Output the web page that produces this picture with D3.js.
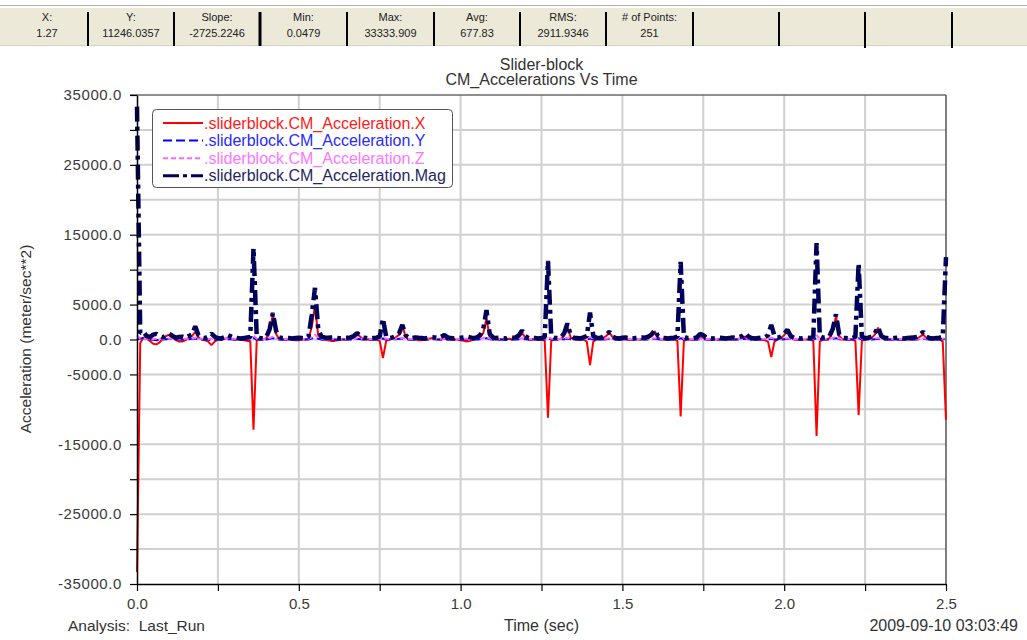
<!DOCTYPE html>
<html>
<head>
<meta charset="utf-8">
<script src="https://cdn.jsdelivr.net/npm/d3@7"></script>
<style>
  body { margin: 0; background: #ffffff; }
  svg text { font-family: "Liberation Sans", Arial, sans-serif; }
</style>
</head>
<body>
<svg id="chart" width="1027" height="640"></svg>
<script>
// ---------------- data ----------------
// 251 samples, 0.01 s apart, from 0.0 to 2.5 s
const sampleStep = 0.01;

const accelX = [
  -33300, -500, 300, 100, -200, -600, -700, -400, 100, 500,
  700, 400, -100, -300, -300, -100, 300, 500, 1100, 300,
  0, -100, -300, -800, -300, 0, 0, 100, 200, 100,
  0, 0, 0, -100, -200, -200, -12900, -100, 0, 0,
  200, 1200, 3600, 800, 0, 0, 0, 0, 0, -100,
  -100, 0, 0, 100, 1800, 4800, 600, 0, 0, -100,
  -200, -200, -100, 0, 0, 0, 100, 300, 800, 400,
  0, 0, 0, 0, 0, -200, -2650, -200, 0, 100,
  300, 700, 2000, 400, 0, 0, 0, -100, -100, 0,
  100, 200, 100, 0, 0, 100, 0, 0, 0, 0,
  -100, -200, -300, -200, 0, 100, 400, 900, 3000, 300,
  0, 0, 0, 0, 0, 100, 0, 100, 400, 900,
  300, 0, 0, 0, 0, 0, -200, -11200, -200, 0,
  0, 100, 600, 1900, 300, 0, 0, 0, 0, -300,
  -3650, -300, 0, 0, 200, 500, 1000, 300, 0, 0,
  0, 0, 0, 0, 0, 0, 100, 0, 200, 500,
  1200, 300, 0, 0, 0, 0, 0, -200, -11000, -200,
  0, 0, 0, 0, 200, 300, 0, 0, 0, 0,
  0, 0, 0, 0, 0, 0, 100, 200, 400, 100,
  0, 0, 0, 0, -100, -300, -2500, -300, 0, 200,
  600, 1300, 400, 0, 0, 0, 0, 0, 0, -200,
  -13800, -300, 0, 0, 200, 1200, 3300, 500, 0, 0,
  0, 0, -200, -10800, -200, 0, 0, 200, 700, 1700,
  300, 0, 0, 0, 0, 0, 0, 0, 0, 0,
  0, 100, 400, 700, 200, 0, 0, 0, 0, -300,
  -11500
];

const accelY = [
  0, 150, 200, 100, 0, -50, -100, -50, 0, 50,
  100, 50, 0, 0, -50, 0, 50, 100, 150, 50,
  0, 0, -50, -100, -50, 0, 0, 0, 50, 50,
  0, 0, 0, 0, 0, 0, 200, 0, 0, 0,
  0, 100, 200, 100, 0, 0, 0, 0, 0, 0,
  0, 0, 0, 0, 150, 300, 100, 0, 0, 0,
  0, 0, 0, 0, 0, 0, 0, 50, 100, 50,
  0, 0, 0, 0, 0, 0, 150, 0, 0, 0,
  50, 100, 150, 50, 0, 0, 0, 0, 0, 0,
  0, 50, 50, 0, 0, 50, 0, 0, 0, 0,
  0, 0, -50, 0, 0, 0, 50, 100, 200, 50,
  0, 0, 0, 0, 0, 0, 0, 0, 50, 100,
  50, 0, 0, 0, 0, 0, 0, 200, 0, 0,
  0, 0, 50, 150, 50, 0, 0, 0, 0, 0,
  150, 0, 0, 0, 0, 50, 100, 50, 0, 0,
  0, 0, 0, 0, 0, 0, 0, 0, 0, 50,
  100, 50, 0, 0, 0, 0, 0, 0, 200, 0,
  0, 0, 0, 0, 50, 50, 0, 0, 0, 0,
  0, 0, 0, 0, 0, 0, 0, 50, 100, 50,
  0, 0, 0, 0, 0, 0, 100, 0, 0, 0,
  50, 100, 50, 0, 0, 0, 0, 0, 0, 0,
  200, 0, 0, 0, 0, 100, 200, 50, 0, 0,
  0, 0, 0, 200, 0, 0, 0, 0, 50, 100,
  50, 0, 0, 0, 0, 0, 0, 0, 0, 0,
  0, 0, 50, 100, 50, 0, 0, 0, 0, 0,
  200
];

const accelZ = [
  600, 120, 150, 110, 90, 80, 90, 100, 110, 120,
  130, 110, 90, 80, 80, 100, 120, 150, 250, 120,
  100, 90, 80, 100, 90, 80, 80, 90, 110, 100,
  90, 80, 80, 90, 100, 150, 600, 120, 90, 80,
  100, 200, 400, 150, 90, 80, 80, 80, 80, 80,
  80, 80, 80, 100, 300, 700, 200, 100, 90, 80,
  80, 80, 80, 80, 80, 80, 90, 110, 150, 110,
  90, 80, 80, 80, 80, 100, 300, 100, 80, 90,
  110, 150, 250, 120, 90, 80, 80, 80, 80, 80,
  90, 100, 100, 90, 90, 120, 90, 80, 80, 80,
  80, 90, 100, 90, 80, 90, 120, 200, 400, 120,
  90, 80, 80, 80, 80, 100, 90, 90, 120, 180,
  110, 80, 80, 80, 80, 80, 100, 500, 100, 80,
  80, 90, 120, 250, 120, 80, 80, 80, 90, 110,
  350, 110, 80, 80, 90, 110, 150, 100, 80, 80,
  80, 80, 80, 80, 80, 80, 90, 80, 100, 120,
  180, 110, 80, 80, 80, 80, 80, 100, 500, 100,
  80, 80, 80, 90, 130, 120, 80, 80, 80, 80,
  80, 80, 80, 80, 80, 80, 90, 100, 150, 100,
  80, 80, 80, 80, 90, 110, 250, 110, 80, 90,
  120, 180, 110, 80, 80, 80, 80, 80, 80, 100,
  600, 110, 80, 90, 110, 200, 400, 130, 80, 80,
  80, 80, 100, 500, 100, 80, 80, 90, 120, 200,
  110, 80, 80, 80, 80, 80, 80, 80, 80, 80,
  80, 90, 120, 150, 100, 80, 80, 80, 80, 100,
  500
];

const accelMag = [
  33334, 900, 1100, 500, 350, 700, 800, 500, 300, 600,
  800, 500, 250, 350, 400, 250, 500, 700, 1900, 600,
  250, 200, 400, 850, 400, 200, 150, 300, 650, 450,
  250, 200, 150, 200, 300, 350, 13100, 400, 200, 150,
  400, 1500, 3800, 1200, 300, 200, 250, 200, 150, 200,
  250, 200, 150, 400, 3500, 7400, 1500, 400, 300, 250,
  300, 300, 200, 150, 200, 250, 300, 500, 900, 600,
  250, 200, 150, 200, 250, 400, 3000, 400, 200, 300,
  500, 900, 2100, 600, 250, 200, 300, 250, 200, 150,
  250, 350, 300, 200, 400, 650, 300, 200, 150, 200,
  250, 300, 400, 300, 200, 300, 600, 1500, 4200, 800,
  300, 200, 250, 200, 150, 400, 250, 300, 600, 1300,
  500, 200, 250, 200, 150, 200, 400, 11246, 500, 250,
  200, 300, 900, 2300, 600, 250, 200, 150, 300, 500,
  3850, 500, 250, 200, 400, 700, 1100, 400, 200, 150,
  250, 300, 200, 150, 200, 250, 300, 250, 400, 700,
  1350, 500, 250, 200, 150, 200, 250, 400, 11100, 400,
  200, 250, 200, 300, 800, 600, 250, 200, 150, 200,
  250, 200, 150, 200, 300, 250, 350, 500, 900, 400,
  200, 150, 200, 250, 300, 600, 2100, 500, 250, 400,
  800, 1400, 500, 250, 200, 150, 200, 250, 200, 400,
  13800, 500, 250, 300, 500, 1500, 3600, 700, 250, 200,
  150, 200, 400, 10900, 400, 200, 250, 400, 900, 1800,
  500, 250, 200, 150, 200, 250, 200, 150, 200, 250,
  300, 350, 700, 1100, 400, 200, 150, 200, 250, 400,
  11800
];

const seriesNames = [
  ".sliderblock.CM_Acceleration.X",
  ".sliderblock.CM_Acceleration.Y",
  ".sliderblock.CM_Acceleration.Z",
  ".sliderblock.CM_Acceleration.Mag"
];

const yTickValues = [-35000, -30000, -25000, -20000, -15000, -10000, -5000, 0,
                     5000, 10000, 15000, 20000, 25000, 30000, 35000];
const yLabelValues = [-35000, -25000, -15000, -5000, 0, 5000, 15000, 25000, 35000];
const xTickValues = [0, 0.25, 0.5, 0.75, 1.0, 1.25, 1.5, 1.75, 2.0, 2.25, 2.5];
const xLabelValues = [0, 0.5, 1.0, 1.5, 2.0, 2.5];

const statLabels = ["X:", "Y:", "Slope:", "Min:", "Max:", "Avg:", "RMS:", "# of Points:"];
const statValues = ["1.27", "11246.0357", "-2725.2246", "0.0479", "33333.909", "677.83", "2911.9346", "251"];

const titleLines = ["Slider-block", "CM_Accelerations Vs Time"];

// ---------------- layout ----------------
const svg = d3.select("#chart");
const plot = { left: 137, right: 946, top: 95, bottom: 584 };

const x = d3.scaleLinear().domain([0, 2.5]).range([plot.left, plot.right]);
const y = d3.scaleLinear().domain([-35000, 35000]).range([plot.bottom, plot.top]);

// ---------------- statistics strip ----------------
const strip = svg.append("g");
strip.append("line").attr("x1", 0).attr("x2", 1027).attr("y1", 5.5).attr("y2", 5.5)
  .attr("stroke", "#b8b5a8").attr("stroke-width", 1);
strip.append("rect").attr("x", 0).attr("y", 7).attr("width", 1027).attr("height", 38)
  .attr("fill", "#ece9d8");
strip.append("line").attr("x1", 0).attr("x2", 1027).attr("y1", 7.5).attr("y2", 7.5)
  .attr("stroke", "#ffffff").attr("stroke-width", 1);
strip.append("line").attr("x1", 0).attr("x2", 1027).attr("y1", 45.5).attr("y2", 45.5)
  .attr("stroke", "#d6d3c6").attr("stroke-width", 1);

const cellEdges = [6, 88, 174, 260, 347, 434, 520, 606, 693, 779, 865, 952];
cellEdges.slice(1).forEach((ex, k) => {
  strip.append("line")
    .attr("x1", ex).attr("x2", ex).attr("y1", 12).attr("y2", k >= 9 ? 48 : 46)
    .attr("stroke", "#000").attr("stroke-width", k === 2 ? 3 : 2);
});
statLabels.forEach((lab, k) => {
  const cx = (cellEdges[k] + cellEdges[k + 1]) / 2;
  strip.append("text").attr("x", cx).attr("y", 21).attr("text-anchor", "middle")
    .attr("font-size", 11).attr("fill", "#222").text(lab);
  strip.append("text").attr("x", cx).attr("y", 37).attr("text-anchor", "middle")
    .attr("font-size", 11).attr("fill", "#222").text(statValues[k]);
});

// ---------------- grid ----------------
const grid = svg.append("g");
grid.selectAll("line.h")
  .data(yTickValues.filter(v => v > -35000 && v < 35000))
  .join("line")
  .attr("x1", plot.left).attr("x2", plot.right)
  .attr("y1", d => y(d)).attr("y2", d => y(d))
  .attr("stroke", "#d0d0d0").attr("stroke-width", 2);
grid.selectAll("line.v")
  .data(xTickValues.filter(v => v > 0 && v < 2.5))
  .join("line")
  .attr("y1", plot.top).attr("y2", plot.bottom)
  .attr("x1", d => x(d)).attr("x2", d => x(d))
  .attr("stroke", "#d0d0d0").attr("stroke-width", 2);

// frame: top and right edges
svg.append("line").attr("x1", plot.left - 7).attr("x2", plot.right)
  .attr("y1", plot.top).attr("y2", plot.top)
  .attr("stroke", "#6a6a6a").attr("stroke-width", 1.5);
svg.append("line").attr("x1", plot.right).attr("x2", plot.right)
  .attr("y1", plot.top).attr("y2", plot.bottom)
  .attr("stroke", "#555").attr("stroke-width", 1.5);

// ---------------- series ----------------
const seriesData = [accelX, accelY, accelZ, accelMag];
const seriesStyle = [
  { color: "#ff0000", width: 2, dash: null },
  { color: "#0000ff", width: 2, dash: "9,4" },
  { color: "#ff66ff", width: 2, dash: "5,3" },
  { color: "#00005a", width: 4.5, dash: "15,5,4,5" }
];

const lineGen = d3.line()
  .x((d, i) => x(i * sampleStep))
  .y(d => y(d));

const lines = svg.append("g");
seriesData.forEach((vals, k) => {
  const st = seriesStyle[k];
  lines.append("path")
    .datum(vals)
    .attr("d", lineGen)
    .attr("fill", "none")
    .attr("stroke", st.color)
    .attr("stroke-width", st.width)
    .attr("stroke-dasharray", st.dash)
    .attr("stroke-linejoin", "bevel");
});

// ---------------- axes ----------------
const yAxis = d3.axisLeft(y)
  .tickValues(yTickValues)
  .tickSize(7)
  .tickSizeOuter(0)
  .tickPadding(8)
  .tickFormat(d => yLabelValues.includes(d) ? d.toFixed(1) : "");
const gy = svg.append("g").attr("transform", `translate(${plot.left},0)`).call(yAxis);

const xAxis = d3.axisBottom(x)
  .tickValues(xTickValues)
  .tickSize(7)
  .tickSizeOuter(0)
  .tickPadding(7)
  .tickFormat(d => xLabelValues.includes(d) ? d.toFixed(1) : "");
const gx = svg.append("g").attr("transform", `translate(0,${plot.bottom})`).call(xAxis);

[gx, gy].forEach(g => {
  g.select(".domain").attr("stroke", "#000").attr("stroke-width", 1.5);
  g.selectAll(".tick line").attr("stroke", "#000").attr("stroke-width", 1.2);
  g.selectAll(".tick text")
    .attr("font-family", "Liberation Sans, Arial, sans-serif")
    .attr("font-size", 15).attr("fill", "#3a3a3a");
});
gy.selectAll(".tick text").attr("letter-spacing", 0.6);

// ---------------- titles ----------------
titleLines.forEach((t, k) => {
  svg.append("text").attr("x", (plot.left + plot.right) / 2).attr("y", 70 + k * 15)
    .attr("text-anchor", "middle").attr("font-size", 16).attr("fill", "#333").text(t);
});

svg.append("text")
  .attr("transform", `translate(31,339) rotate(-90)`)
  .attr("text-anchor", "middle").attr("font-size", 15.5).attr("fill", "#333")
  .text("Acceleration (meter/sec**2)");

svg.append("text").attr("x", 68).attr("y", 631).attr("font-size", 15.5).attr("fill", "#333")
  .attr("xml:space", "preserve").style("white-space", "pre").text("Analysis:  Last_Run");
svg.append("text").attr("x", (plot.left + plot.right) / 2).attr("y", 631)
  .attr("text-anchor", "middle").attr("font-size", 16).attr("fill", "#333").text("Time (sec)");
svg.append("text").attr("x", 1018).attr("y", 631)
  .attr("text-anchor", "end").attr("font-size", 16).attr("fill", "#333").text("2009-09-10 03:03:49");

// ---------------- legend ----------------
const legend = svg.append("g");
legend.append("rect").attr("x", 152.5).attr("y", 109.5).attr("width", 300).attr("height", 78)
  .attr("rx", 4).attr("fill", "#fff").attr("stroke", "#555").attr("stroke-width", 1);
const legendText = ["#ff1a1a", "#2a2aff", "#ff77ff", "#26265e"];
seriesNames.forEach((name, k) => {
  const cy = 123 + k * 17.6;
  const st = seriesStyle[k];
  legend.append("line").attr("x1", 163).attr("x2", 203).attr("y1", cy).attr("y2", cy)
    .attr("stroke", st.color).attr("stroke-width", k === 3 ? 3 : 2)
    .attr("stroke-dasharray", k === 3 ? "16,4,4,4" : st.dash);
  legend.append("text").attr("x", 204).attr("y", cy + 5.5)
    .attr("font-size", 16).attr("fill", legendText[k]).text(name);
});
</script>
</body>
</html>
